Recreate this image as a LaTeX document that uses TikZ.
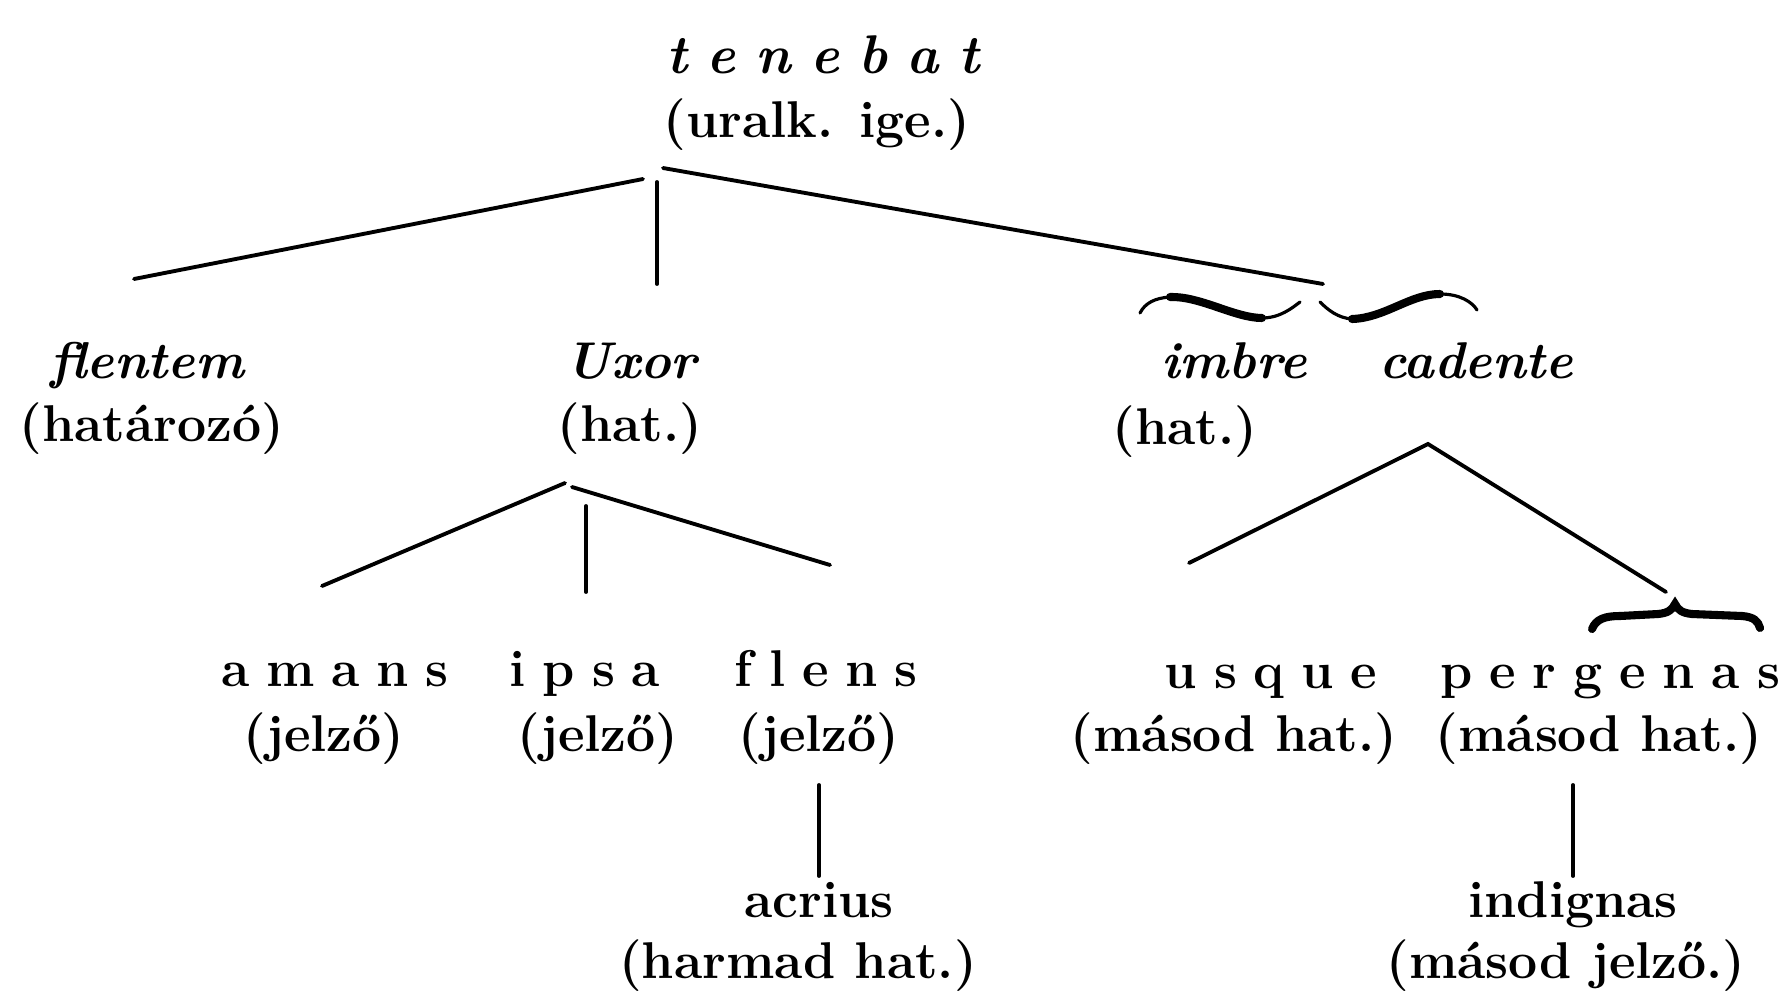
\documentclass[tikz,border=0pt]{standalone}
\usepackage{fontspec}
\newcommand\lk{\kern4.8pt}
\newcommand\tk{\kern5.5pt}
\begin{document}
\begin{tikzpicture}[x=0.01cm,y=-0.01cm,
  txt/.style={anchor=base,inner sep=0pt,font=\fontsize{14.7}{18}\selectfont\bfseries},
  itx/.style={anchor=base,inner sep=0pt,font=\fontsize{14.7}{18}\selectfont\bfseries\itshape},
  spc/.style={anchor=base,inner sep=0pt,font=\fontsize{14.7}{18}\selectfont\bfseries},
  spi/.style={anchor=base,inner sep=0pt,font=\fontsize{15.5}{18}\selectfont\bfseries\itshape},
  conn/.style={line width=1.1pt,line cap=round},
  brc/.style={line width=2.3pt,line cap=round},
  brt/.style={line width=0.9pt,line cap=round}]
\useasboundingbox (0,0) rectangle (1783,994);
% texts
\node[spi] (tenebat) at (823,74) {t\tk e\tk n\tk e\tk b\tk a\tk t};
\node[txt] (tenebatl) at (817,137) {(uralk. ige.)};
\node[itx] (flentem) at (147,378) {flentem};
\node[txt] (flenteml) at (152,441) {(határozó)};
\node[itx] (uxor) at (631,378) {Uxor};
\node[txt] (uxorl) at (630,441) {(hat.)};
\node[itx] (imbre) at (1234,378) {imbre};
\node[itx] (cadente) at (1476,378) {cadente};
\node[txt] (imbrel) at (1185,444) {(hat.)};
\node[spc] (amans) at (335,686) {a\lk m\lk a\lk n\lk s};
\node[spc] (ipsa) at (585,686) {i\lk p\lk s\lk a};
\node[spc] (flens) at (826,686) {f\lk l\lk e\lk n\lk s};
\node[txt] (amansl) at (324,751) {(jelző)};
\node[txt] (ipsal) at (598,751) {(jelző)};
\node[txt] (flensl) at (819,751) {(jelző)};
\node[spc] (usque) at (1271,688) {u\lk s\lk q\lk u\lk e};
\node[spc] (pergenas) at (1610,688) {p\lk e\lk r\lk g\lk e\lk n\lk a\lk s};
\node[txt] (usquel) at (1234,751) {(másod hat.)};
\node[txt] (pergenasl) at (1599,751) {(másod hat.)};
\node[txt] (acrius) at (819,917) {acrius};
\node[txt] (acriusl) at (798,978) {(harmad hat.)};
\node[txt] (indignas) at (1573,917) {indignas};
\node[txt] (indignasl) at (1566,978) {(másod jelző.)};
% connector end points
\coordinate (tA) at (643,179);
\coordinate (tL) at (134,279);
\coordinate (tV1) at (657,182);
\coordinate (tV2) at (657,284);
\coordinate (tR1) at (663,168);
\coordinate (tR2) at (1323,284);
\coordinate (uA) at (565,483);
\coordinate (uL) at (322,586);
\coordinate (uV1) at (586,506);
\coordinate (uV2) at (586,592);
\coordinate (uR1) at (572,487);
\coordinate (uR2) at (830,565);
\coordinate (cA) at (1428,444);
\coordinate (cL) at (1189,563);
\coordinate (cR) at (1666,592);
\coordinate (fV1) at (819,785);
\coordinate (fV2) at (819,876);
\coordinate (pV1) at (1573,785);
\coordinate (pV2) at (1573,876);
% connectors
\draw[conn] (tA) -- (tL);
\draw[conn] (tV1) -- (tV2);
\draw[conn] (tR1) -- (tR2);
\draw[conn] (uA) -- (uL);
\draw[conn] (uV1) -- (uV2);
\draw[conn] (uR1) -- (uR2);
\draw[conn] (cL) -- (cA) -- (cR);
\draw[conn] (fV1) -- (fV2);
\draw[conn] (pV1) -- (pV2);
% brace over imbre cadente
\draw[brt] (1140,313) .. controls (1145,303) and (1155,298) .. (1170,297);
\draw[brc] (1170,297) .. controls (1200,296) and (1235,318) .. (1262,318);
\draw[brt] (1262,318) .. controls (1280,318) and (1292,308) .. (1300,302);
\draw[brt] (1320,302) .. controls (1328,310) and (1338,318) .. (1352,319);
\draw[brc] (1352,319) .. controls (1385,318) and (1410,294) .. (1440,294);
\draw[brt] (1440,294) .. controls (1460,294) and (1472,302) .. (1477,310);
% brace over pergenas
\draw[brc] (1592,629) .. controls (1596,619) and (1605,616) .. (1620,616) -- (1658,614)
  .. controls (1668,613) and (1672,610) .. (1675,604)
  .. controls (1678,610) and (1682,613) .. (1692,614) -- (1742,616)
  .. controls (1754,617) and (1758,621) .. (1760,628);
\end{tikzpicture}
\end{document}
